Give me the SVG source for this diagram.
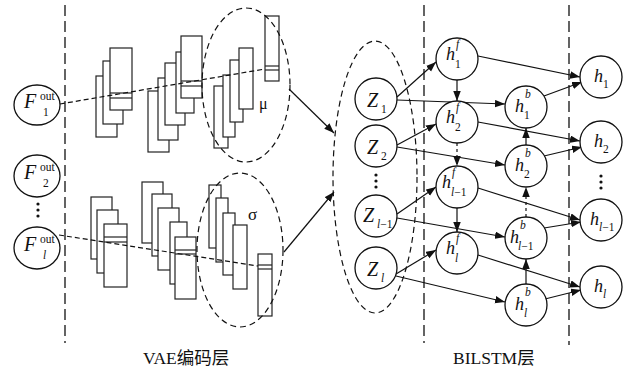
<svg xmlns="http://www.w3.org/2000/svg" width="633" height="370" viewBox="0 0 633 370">
<defs>
<marker id="ah" markerUnits="userSpaceOnUse" markerWidth="11" markerHeight="8" refX="10" refY="3.75" orient="auto">
<path d="M0,0 L10,3.75 L0,7.5 z" fill="#111"/>
</marker>
<style>
.bg{fill:#fff}
.sep{stroke:#111;stroke-width:1.3;stroke-dasharray:11 5;fill:none}
.dl{stroke:#111;stroke-width:1.2;stroke-dasharray:5 3;fill:none}
.el{stroke:#111;stroke-width:1.2;stroke-dasharray:6 4;fill:none}
.bx{fill:#fff;stroke:#222;stroke-width:1.2}
.st{stroke:#222;stroke-width:1.2}
.nd{fill:#fff;stroke:#111;stroke-width:1.3}
.ar{stroke:#111;stroke-width:1.2;fill:none;marker-end:url(#ah)}
.ard{stroke:#111;stroke-width:1.2;fill:none;stroke-dasharray:3 3;marker-end:url(#ah)}
.dot{fill:#111}
.m{font-family:"Liberation Serif","DejaVu Serif",serif;font-style:italic;fill:#111}
.r{font-family:"Liberation Serif","DejaVu Serif",serif;font-style:normal;fill:#111}
.big{font-size:20px}
.hh{font-size:18px}
.sm{font-size:11.5px}
.lab{font-family:"Liberation Serif","Noto Sans CJK SC",serif;font-size:17.5px;fill:#111}
</style>
</defs>
<rect class="bg" x="0" y="0" width="633" height="370"/>

<g id="separators">
<line class="sep" x1="65" y1="5" x2="65" y2="343"/>
<line class="sep" x1="424" y1="5" x2="424" y2="343"/>
<line class="sep" x1="569" y1="5" x2="569" y2="345"/>
</g>

<g id="vae-mu">
<rect class="bx" x="96" y="76" width="21" height="61"/>
<rect class="bx" x="103" y="61" width="20" height="63"/>
<rect class="bx" x="110" y="48" width="22" height="62"/>
<line class="st" x1="110" y1="93" x2="132" y2="93"/>
<line class="st" x1="110" y1="98" x2="132" y2="98"/>
<rect class="bx" x="148" y="91" width="21" height="61"/>
<rect class="bx" x="158" y="78" width="20" height="62"/>
<rect class="bx" x="165" y="63" width="20" height="62"/>
<rect class="bx" x="176" y="52" width="18" height="61"/>
<rect class="bx" x="181" y="36" width="21" height="62"/>
<line class="st" x1="181" y1="81" x2="202" y2="81"/>
<line class="st" x1="181" y1="86" x2="202" y2="86"/>
<rect class="bx" x="214" y="86" width="14" height="62"/>
<rect class="bx" x="223" y="75" width="12" height="62"/>
<rect class="bx" x="230" y="60" width="13" height="62"/>
<rect class="bx" x="239" y="48" width="14" height="61"/>
<rect class="bx" x="265" y="16" width="14" height="65"/>
<line class="st" x1="265" y1="66" x2="279" y2="66"/>
<line class="st" x1="265" y1="70" x2="279" y2="70"/>
<ellipse class="el" cx="246" cy="85" rx="44" ry="77"/>
<text class="r" x="259" y="109" font-size="16">μ</text>
</g>

<g id="vae-sigma">
<rect class="bx" x="91" y="197" width="21" height="62"/>
<rect class="bx" x="97" y="210" width="21" height="63"/>
<rect class="bx" x="104" y="224" width="23" height="63"/>
<line class="st" x1="104" y1="237" x2="127" y2="237"/>
<line class="st" x1="104" y1="242" x2="127" y2="242"/>
<rect class="bx" x="142" y="182" width="21" height="61"/>
<rect class="bx" x="152" y="194" width="20" height="62"/>
<rect class="bx" x="158" y="208" width="21" height="62"/>
<rect class="bx" x="170" y="222" width="17" height="62"/>
<rect class="bx" x="175" y="237" width="21" height="62"/>
<line class="st" x1="175" y1="250" x2="196" y2="250"/>
<line class="st" x1="175" y1="254" x2="196" y2="254"/>
<rect class="bx" x="209" y="185" width="12" height="63"/>
<rect class="bx" x="216" y="198" width="12" height="64"/>
<rect class="bx" x="223" y="213" width="12" height="62"/>
<rect class="bx" x="233" y="225" width="14" height="64"/>
<rect class="bx" x="258" y="254" width="14" height="62"/>
<line class="st" x1="258" y1="265" x2="272" y2="265"/>
<line class="st" x1="258" y1="269" x2="272" y2="269"/>
<ellipse class="el" cx="240" cy="250" rx="43" ry="77"/>
<text class="r" x="248" y="220" font-size="17">σ</text>
</g>

<g id="z-group">
<ellipse class="el" cx="375" cy="177" rx="42" ry="136"/>
</g>

<g id="connectors">
<line class="dl" x1="60" y1="104" x2="265" y2="69"/>
<line class="dl" x1="59" y1="235" x2="258" y2="266"/>
<line class="ar" x1="289" y1="89" x2="334" y2="133"/>
<line class="ar" x1="284" y1="252" x2="334" y2="192"/>
<line class="ar" x1="397" y1="97" x2="436" y2="62"/>
<line class="ar" x1="397" y1="100" x2="505" y2="104"/>
<line class="ar" x1="397" y1="145" x2="436" y2="124"/>
<line class="ar" x1="397" y1="147" x2="505" y2="165"/>
<line class="ar" x1="397" y1="214" x2="436" y2="187"/>
<line class="ar" x1="397" y1="218" x2="505" y2="237"/>
<line class="ar" x1="396" y1="274" x2="436" y2="250"/>
<line class="ar" x1="396" y1="276" x2="505" y2="302"/>
<line class="ar" x1="457" y1="80" x2="457" y2="101"/>
<line class="ard" x1="457" y1="143" x2="457" y2="166"/>
<line class="ar" x1="457" y1="208" x2="457" y2="232"/>
<line class="ar" x1="526" y1="284" x2="526" y2="259"/>
<line class="ard" x1="526" y1="217" x2="526" y2="187"/>
<line class="ar" x1="526" y1="145" x2="526" y2="128"/>
<line class="ar" x1="478" y1="56" x2="580" y2="77"/>
<line class="ar" x1="544" y1="96" x2="582" y2="82"/>
<line class="ar" x1="478" y1="122" x2="580" y2="141"/>
<line class="ar" x1="544" y1="156" x2="582" y2="147"/>
<line class="ar" x1="478" y1="188" x2="580" y2="220"/>
<line class="ar" x1="544" y1="228" x2="581" y2="222"/>
<line class="ar" x1="478" y1="255" x2="580" y2="287"/>
<line class="ar" x1="545" y1="299" x2="581" y2="290"/>
</g>

<g id="F1">
<ellipse class="nd" cx="37" cy="105" rx="23" ry="20"/>
<text class="m big" x="24" y="108">F</text><text class="r sm" x="40" y="100">out</text><text class="r sm" x="43" y="116">1</text>
</g>
<g id="F2">
<ellipse class="nd" cx="37" cy="176" rx="23" ry="21"/>
<text class="m big" x="24" y="179">F</text><text class="r sm" x="40" y="171">out</text><text class="r sm" x="43" y="187">2</text>
</g>
<g id="Fdots">
<circle class="dot" cx="38" cy="204" r="1.6"/><circle class="dot" cx="38" cy="210" r="1.6"/><circle class="dot" cx="38" cy="216" r="1.6"/>
</g>
<g id="Fl">
<ellipse class="nd" cx="37" cy="248" rx="23" ry="21"/>
<text class="m big" x="24" y="251">F</text><text class="r sm" x="40" y="243">out</text><text class="m sm" x="43" y="259">l</text>
</g>

<g id="Z1">
<circle class="nd" cx="376" cy="99" r="21"/>
<text class="m big" x="367" y="107">Z</text><text class="r sm" x="381" y="113">1</text>
</g>
<g id="Z2">
<circle class="nd" cx="376" cy="146" r="21"/>
<text class="m big" x="367" y="154">Z</text><text class="r sm" x="381" y="160">2</text>
</g>
<g id="Zdots">
<circle class="dot" cx="376" cy="175" r="1.6"/><circle class="dot" cx="376" cy="181" r="1.6"/><circle class="dot" cx="376" cy="187" r="1.6"/>
</g>
<g id="Zl1">
<circle class="nd" cx="376" cy="216" r="21"/>
<text class="m big" x="363" y="222">Z</text><text class="m sm" x="377" y="228">l<tspan class="r">−1</tspan></text>
</g>
<g id="Zl">
<circle class="nd" cx="376" cy="268" r="21"/>
<text class="m big" x="367" y="276">Z</text><text class="m sm" x="381" y="282">l</text>
</g>

<g id="hf1">
<circle class="nd" cx="457" cy="59" r="21"/>
<text class="m hh" x="446" y="60">h</text><text class="m sm" x="456" y="48">f</text><text class="r sm" x="455" y="68">1</text>
</g>
<g id="hf2">
<circle class="nd" cx="457" cy="122" r="21"/>
<text class="m hh" x="446" y="123">h</text><text class="m sm" x="456" y="111">f</text><text class="r sm" x="455" y="131">2</text>
</g>
<g id="hfl1">
<circle class="nd" cx="457" cy="187" r="21"/>
<text class="m hh" x="442" y="188">h</text><text class="m sm" x="452" y="176">f</text><text class="m sm" x="451" y="196">l<tspan class="r">−1</tspan></text>
</g>
<g id="hfl">
<circle class="nd" cx="457" cy="253" r="21"/>
<text class="m hh" x="446" y="254">h</text><text class="m sm" x="456" y="242">f</text><text class="m sm" x="455" y="262">l</text>
</g>

<g id="hb1">
<circle class="nd" cx="526" cy="107" r="21"/>
<text class="m hh" x="515" y="112">h</text><text class="m sm" x="525" y="98">b</text><text class="r sm" x="524" y="119">1</text>
</g>
<g id="hb2">
<circle class="nd" cx="526" cy="166" r="21"/>
<text class="m hh" x="515" y="171">h</text><text class="m sm" x="525" y="157">b</text><text class="r sm" x="524" y="178">2</text>
</g>
<g id="hbl1">
<circle class="nd" cx="526" cy="238" r="21"/>
<text class="m hh" x="510" y="243">h</text><text class="m sm" x="520" y="229">b</text><text class="m sm" x="518" y="250">l<tspan class="r">−1</tspan></text>
</g>
<g id="hbl">
<circle class="nd" cx="526" cy="305" r="21"/>
<text class="m hh" x="515" y="310">h</text><text class="m sm" x="525" y="296">b</text><text class="m sm" x="524" y="317">l</text>
</g>

<g id="h1">
<circle class="nd" cx="601" cy="77" r="21"/>
<text class="m hh" x="594" y="82">h</text><text class="r sm" x="603" y="88">1</text>
</g>
<g id="h2">
<circle class="nd" cx="601" cy="142" r="21"/>
<text class="m hh" x="594" y="147">h</text><text class="r sm" x="603" y="153">2</text>
</g>
<g id="hdots">
<circle class="dot" cx="601" cy="176" r="1.6"/><circle class="dot" cx="601" cy="182" r="1.6"/><circle class="dot" cx="601" cy="188" r="1.6"/>
</g>
<g id="hl1">
<circle class="nd" cx="601" cy="220" r="21"/>
<text class="m hh" x="590" y="225">h</text><text class="m sm" x="599" y="231">l<tspan class="r">−1</tspan></text>
</g>
<g id="hl">
<circle class="nd" cx="601" cy="287" r="21"/>
<text class="m hh" x="594" y="292">h</text><text class="m sm" x="603" y="298">l</text>
</g>

<g id="labels">
<text class="lab" x="143" y="364">VAE编码层</text>
<text class="lab" x="453" y="364">BILSTM层</text>
</g>
</svg>
